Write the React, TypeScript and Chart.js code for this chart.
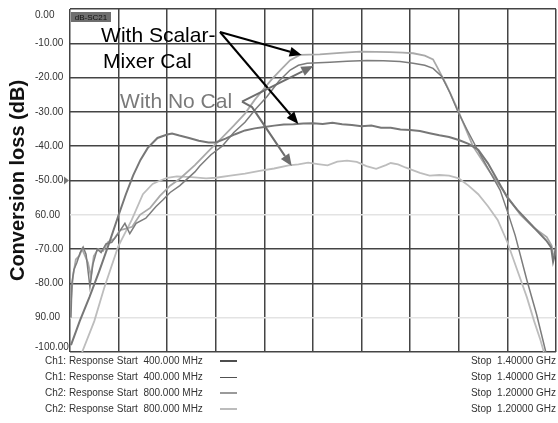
import { useEffect, useRef } from 'react';
import { Chart, registerables } from 'chart.js';

Chart.register(...registerables);

// ---- Data (frequency in MHz, conversion loss in dB) ----
const c1Freq = [402,420,440,460,480,499,515,530,545,560,580,600,610,625,645,665,685,700,720,740,760,780,800,820,840,860,880,900,920,940,960,980,1000,1020,1040,1060,1080,1100,1120,1140,1160,1180,1200,1220,1240,1260,1280,1300,1320,1340,1360,1380,1390,1394,1397,1400];
const c1Loss = [-98,-91,-84,-76.5,-68.5,-60.5,-54,-48.5,-44,-40.5,-37.6,-36.6,-36.3,-36.9,-37.6,-38.4,-38.9,-38.9,-37.8,-36.5,-35.4,-34.8,-34.4,-34,-33.7,-33.6,-33.4,-33.3,-33.5,-33.2,-33.6,-33.8,-34.2,-34,-34.6,-34.6,-35.1,-35.3,-35.6,-36.2,-36.8,-37.3,-38.2,-39.3,-41,-45,-50,-55,-58.5,-61.5,-64.5,-67.5,-69.5,-73.7,-72,-69];

const c2Freq = [402,404,408,414,421,427,433,441,447,456,464,474,486,499,513,523,536,556,577,591,606,626,657,667,690,713,737,760,783,805,830,853,870,888,935,970,1011,1045,1079,1106,1130,1147,1165,1182,1198,1218,1237,1262,1285,1300,1316,1340,1360,1373,1379];
const c2Loss = [-90,-80,-76,-74,-71,-69.4,-71.5,-81,-74.5,-70,-71,-68.5,-68,-65.5,-62.5,-65.5,-62.5,-61,-57.6,-55.7,-53.5,-51.5,-47.5,-45.8,-42.5,-40,-36,-33,-29,-25.6,-21,-17.8,-16.4,-15.8,-15.5,-15.2,-15,-15.1,-15.3,-15.8,-16.4,-17.3,-19.7,-24.5,-29.9,-35.5,-40.6,-47,-52.8,-59,-66,-79,-89,-96.5,-100];

const c3Freq = [402,406,412,419,425,431,437,443,449,458,468,478,491,503,515,528,544,565,585,606,626,657,688,713,737,760,780,797,815,832,853,873,914,956,997,1030,1058,1085,1106,1130,1147,1155,1174,1198,1229,1264,1291,1299,1327,1353,1381,1391,1395,1400];
const c3Loss = [-85,-78,-73,-72,-70,-72,-74,-78,-72,-70,-70.5,-68,-67,-64.5,-64,-63.5,-60,-58,-54.5,-51.5,-49.5,-45.5,-41,-37.5,-34,-30.5,-26.5,-23.6,-20.5,-18,-14.9,-13.4,-13.2,-12.8,-12.4,-12.5,-12.6,-12.7,-12.9,-13.6,-14.7,-16.8,-22,-29.4,-40,-47.5,-52.8,-54.5,-60,-63.6,-66.5,-69,-72.5,-70];

const c4Freq = [425,450,470,499,527,550,570,581,600,620,650,680,700,730,760,790,820,850,870,890,910,930,950,970,990,1010,1030,1050,1060,1075,1090,1105,1120,1140,1160,1180,1200,1220,1240,1260,1280,1300,1320,1340,1355,1368,1375];
const c4Loss = [-100,-91,-81.5,-69.3,-61.5,-54,-51,-50.3,-49.2,-48.8,-49,-49.4,-49.2,-48.6,-48,-47.2,-46.5,-45.6,-45.3,-44.8,-45.2,-45.6,-44.5,-44.2,-44.6,-45.8,-46.6,-45.5,-44.9,-45.3,-46.2,-47,-47.8,-48.6,-48.4,-48.6,-49.4,-51.5,-54,-57.5,-61.5,-68,-76,-84,-91,-96.5,-100];

const yTickValues = [0,-10,-20,-30,-40,-50,-60,-70,-80,-90,-100];
const yTickLabels = ['0.00','-10.00','-20.00','-30.00','-40.00','-50.00','60.00','-70.00','-80.00','90.00','-100.00'];
const lightGridValues = [-60,-90];

const legendLeft = [
  'Ch1: Response Start  400.000 MHz',
  'Ch1: Response Start  400.000 MHz',
  'Ch2: Response Start  800.000 MHz',
  'Ch2: Response Start  800.000 MHz',
];
const legendRight = [
  'Stop  1.40000 GHz',
  'Stop  1.40000 GHz',
  'Stop  1.20000 GHz',
  'Stop  1.20000 GHz',
];
const legendSwatch = [
  { color: '#4e4e4e', width: 2 },
  { color: '#505050', width: 1 },
  { color: '#9a9a9a', width: 2 },
  { color: '#bcbcbc', width: 2 },
];

const yTitle = 'Conversion loss (dB)';
const traceTag = 'dB-SC21';
const noteScalar = ['With Scalar-', 'Mixer Cal'];
const noteNoCal = 'With No Cal';

const FONT = '"Liberation Sans", Arial, sans-serif';

function pts(xs: number[], ys: number[]) {
  return xs.map((x, i) => ({ x, y: ys[i] }));
}

function arrow(ctx: CanvasRenderingContext2D, pts2: [number, number][], color: string) {
  ctx.save();
  ctx.strokeStyle = color;
  ctx.fillStyle = color;
  ctx.lineWidth = 2;
  const n = pts2.length;
  const [tx, ty] = pts2[n - 1];
  const [px, py] = pts2[n - 2];
  const ang = Math.atan2(ty - py, tx - px);
  const hl = 12, hw = 5;
  const bx = tx - hl * Math.cos(ang);
  const by = ty - hl * Math.sin(ang);
  ctx.beginPath();
  ctx.moveTo(pts2[0][0], pts2[0][1]);
  for (let i = 1; i < n - 1; i++) ctx.lineTo(pts2[i][0], pts2[i][1]);
  ctx.lineTo(bx, by);
  ctx.stroke();
  ctx.beginPath();
  ctx.moveTo(tx, ty);
  ctx.lineTo(bx + hw * Math.sin(ang), by - hw * Math.cos(ang));
  ctx.lineTo(bx - hw * Math.sin(ang), by + hw * Math.cos(ang));
  ctx.closePath();
  ctx.fill();
  ctx.restore();
}

const overlay = {
  id: 'overlay',
  afterDraw(chart: any) {
    const ctx: CanvasRenderingContext2D = chart.ctx;
    const xs = chart.scales.x;
    const ys = chart.scales.y;
    const P = (f: number, d: number): [number, number] => [xs.getPixelForValue(f), ys.getPixelForValue(d)];
    const area = chart.chartArea;

    // y tick labels
    ctx.save();
    ctx.font = `10px ${FONT}`;
    ctx.fillStyle = '#333';
    ctx.textAlign = 'left';
    ctx.textBaseline = 'middle';
    yTickValues.forEach((v, i) => {
      let y = ys.getPixelForValue(v);
      if (i === 0) y += 6;
      if (i === yTickValues.length - 1) y -= 5;
      ctx.fillText(yTickLabels[i], 35, y);
    });
    ctx.restore();

    // reference marker at -50
    ctx.save();
    const my = ys.getPixelForValue(-50);
    ctx.fillStyle = '#777';
    ctx.beginPath();
    ctx.moveTo(area.left - 6, my - 4);
    ctx.lineTo(area.left - 1, my);
    ctx.lineTo(area.left - 6, my + 4);
    ctx.closePath();
    ctx.fill();
    ctx.restore();

    // y title
    ctx.save();
    ctx.translate(18, (area.top + area.bottom) / 2);
    ctx.rotate(-Math.PI / 2);
    ctx.font = `bold 20px ${FONT}`;
    ctx.fillStyle = '#111';
    ctx.textAlign = 'center';
    ctx.textBaseline = 'middle';
    ctx.fillText(yTitle, 0, 0);
    ctx.restore();

    // trace tag box
    ctx.save();
    ctx.fillStyle = '#6e6e6e';
    ctx.fillRect(area.left + 1, area.top + 3, 40, 10);
    ctx.fillStyle = '#111';
    ctx.font = `8px ${FONT}`;
    ctx.textAlign = 'center';
    ctx.textBaseline = 'middle';
    ctx.fillText(traceTag, area.left + 21, area.top + 8.5);
    ctx.restore();

    // annotations text
    ctx.save();
    ctx.font = `21px ${FONT}`;
    ctx.textAlign = 'left';
    ctx.textBaseline = 'alphabetic';
    ctx.fillStyle = '#000';
    let p = P(464, -9.5);
    ctx.fillText(noteScalar[0], p[0], p[1]);
    p = P(468, -17.1);
    ctx.fillText(noteScalar[1], p[0], p[1]);
    ctx.fillStyle = '#7a7a7a';
    p = P(503, -28.9);
    ctx.fillText(noteNoCal, p[0], p[1]);
    ctx.restore();

    // arrows
    arrow(ctx, [P(708.6, -6.7), P(876.7, -13.4)], '#000');
    arrow(ctx, [P(708.6, -6.7), P(869.8, -33.5)], '#000');
    arrow(ctx, [P(753.9, -27), P(900.6, -16.6)], '#6e6e6e');
    arrow(ctx, [P(753.9, -27), P(774.5, -28.6), P(856.2, -45.8)], '#6e6e6e');

    // legend rows
    ctx.save();
    ctx.font = `10px ${FONT}`;
    ctx.fillStyle = '#333';
    ctx.textBaseline = 'middle';
    legendLeft.forEach((t, i) => {
      const y = 361 + i * 16;
      ctx.textAlign = 'left';
      ctx.fillText(t, 45, y);
      ctx.textAlign = 'right';
      ctx.fillText(legendRight[i], 556, y);
      ctx.strokeStyle = legendSwatch[i].color;
      ctx.lineWidth = legendSwatch[i].width;
      const ly = legendSwatch[i].width % 2 === 1 ? y + 0.5 : y;
      ctx.beginPath();
      ctx.moveTo(220, ly);
      ctx.lineTo(237, ly);
      ctx.stroke();
    });
    ctx.restore();
  },
};

export default function App() {
  const ref = useRef<HTMLCanvasElement>(null);
  useEffect(() => {
    if (!ref.current) return;
    const chart = new Chart(ref.current, {
      type: 'line',
      data: {
        datasets: [
          { label: 'c1', data: pts(c1Freq, c1Loss), borderColor: '#777777', borderWidth: 2 },
          { label: 'c2', data: pts(c2Freq, c2Loss), borderColor: '#7c7c7c', borderWidth: 1.5 },
          { label: 'c3', data: pts(c3Freq, c3Loss), borderColor: '#a9a9a9', borderWidth: 1.8 },
          { label: 'c4', data: pts(c4Freq, c4Loss), borderColor: '#bdbdbd', borderWidth: 1.8 },
        ].map((d) => ({ ...d, pointRadius: 0, tension: 0, fill: false })),
      },
      options: {
        animation: false,
        responsive: false,
        devicePixelRatio: 1,
        layout: { padding: { left: 70, top: 9, right: 2, bottom: 71 } },
        plugins: { legend: { display: false }, tooltip: { enabled: false } },
        scales: {
          x: {
            type: 'linear',
            min: 400,
            max: 1400,
            ticks: { display: false, stepSize: 100 },
            grid: { color: '#444444', lineWidth: 1.5, drawTicks: false },
            border: { display: false },
          },
          y: {
            type: 'linear',
            min: -100,
            max: 0,
            ticks: { display: false, stepSize: 10 },
            grid: {
              color: (c: any) => (lightGridValues.includes(c.tick?.value) ? '#e3e3e3' : '#444444'),
              lineWidth: 1.5,
              drawTicks: false,
            },
            border: { display: false },
          },
        },
      },
      plugins: [overlay],
    });
    return () => chart.destroy();
  }, []);
  return (
    <div style={{ position: 'absolute', left: 0, top: 0, width: 558, height: 423, background: '#fff' }}>
      <canvas ref={ref} width={558} height={423} />
    </div>
  );
}
